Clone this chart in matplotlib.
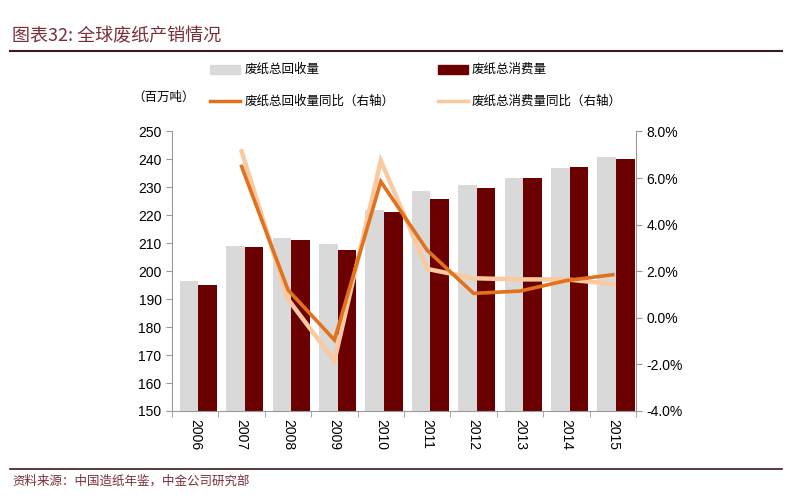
import numpy as np
import matplotlib.pyplot as plt
from matplotlib.ticker import FuncFormatter

plt.rcParams['font.family'] = ['Noto Sans CJK SC', 'DejaVu Sans']

# 数据
years = ['2006', '2007', '2008', '2009', '2010', '2011', '2012', '2013', '2014', '2015']
recovered = [196.5, 209.2, 212.0, 209.8, 222.0, 228.6, 230.8, 233.2, 237.0, 240.8]  # 废纸总回收量
consumed = [195.0, 208.8, 211.3, 207.5, 221.2, 226.0, 229.8, 233.4, 237.2, 240.3]   # 废纸总消费量
recovered_yoy = [np.nan, 6.5, 1.2, -0.95, 5.85, 2.9, 1.05, 1.15, 1.6, 1.85]          # 回收量同比 (%)
consumed_yoy = [np.nan, 7.15, 0.8, -1.85, 6.75, 2.1, 1.7, 1.65, 1.65, 1.45]          # 消费量同比 (%)

maroon = '#6B0000'
gray = '#D9D9D9'
orange = '#E2711D'
peach = '#FAC9A0'
title_color = '#7A2E3A'

fig = plt.figure(figsize=(8, 5), dpi=100)
ax = fig.add_axes([0.215, 0.178, 0.58, 0.559])
x = np.arange(len(years))
w = 0.4
ax.bar(x - w / 2 + 0.07, recovered, width=w, color=gray, zorder=2)
ax.bar(x + w / 2 + 0.07, consumed, width=w, color=maroon, zorder=2)
ax.set_ylim(150, 250)
ax.set_yticks(range(150, 251, 10))
ax.set_xlim(-0.5, len(years) - 0.5)
ax.set_xticks(x)
ax.set_xticklabels(years, rotation=-90, family='Liberation Sans', fontsize=10)
ax.set_xticks(np.arange(-0.5, len(years), 1), minor=True)
ax.tick_params(axis='x', which='major', length=0, pad=6)
ax.tick_params(axis='x', which='minor', length=4, color='#999999')
ax.tick_params(axis='y', length=4, color='#999999')
for lab in ax.get_yticklabels():
    lab.set_family('Liberation Sans')
    lab.set_fontsize(10)
for s in ['top', 'right']:
    ax.spines[s].set_visible(False)
for s in ['left', 'bottom']:
    ax.spines[s].set_color('#999999')

ax2 = ax.twinx()
ax2.plot(x, consumed_yoy, color=peach, lw=3.2, solid_joinstyle='miter', zorder=3)
ax2.plot(x, recovered_yoy, color=orange, lw=2.6, solid_joinstyle='miter', zorder=4)
ax2.set_ylim(-4, 8)
ax2.set_yticks(np.arange(-4, 8.1, 2))
ax2.yaxis.set_major_formatter(FuncFormatter(lambda v, p: f'{v:.1f}%'))
ax2.tick_params(axis='y', length=4, color='#999999')
for lab in ax2.get_yticklabels():
    lab.set_family('Liberation Sans')
    lab.set_fontsize(10)
for s in ['top', 'left', 'bottom']:
    ax2.spines[s].set_visible(False)
ax2.spines['right'].set_color('#999999')

# 标题与分隔线
fig.text(0.015, 0.928, '图表32: 全球废纸产销情况', fontsize=13, color=title_color,
         style='italic', va='center')
fig.add_artist(plt.Line2D([0.012, 0.978], [0.898, 0.898], color='#3A1A1A', lw=1.5))
fig.add_artist(plt.Line2D([0.012, 0.978], [0.063, 0.063], color='#3A1A1A', lw=1.2))
fig.text(0.015, 0.038, '资料来源：中国造纸年鉴，中金公司研究部', fontsize=9,
         color=title_color, va='center')

# 图例
fig.add_artist(plt.Rectangle((0.263, 0.852), 0.037, 0.018, color=gray, transform=fig.transFigure))
fig.text(0.306, 0.861, '废纸总回收量', fontsize=9, va='center')
fig.add_artist(plt.Rectangle((0.547, 0.852), 0.038, 0.018, color=maroon, transform=fig.transFigure))
fig.text(0.590, 0.861, '废纸总消费量', fontsize=9, va='center')
fig.add_artist(plt.Line2D([0.263, 0.300], [0.798, 0.798], color=orange, lw=2.5))
fig.text(0.306, 0.798, '废纸总回收量同比（右轴）', fontsize=9, va='center')
fig.add_artist(plt.Line2D([0.547, 0.585], [0.798, 0.798], color=peach, lw=2.5))
fig.text(0.590, 0.798, '废纸总消费量同比（右轴）', fontsize=9, va='center')
fig.text(0.165, 0.805, '（百万吨）', fontsize=9, va='center')

fig.savefig('out.png', dpi=100)
